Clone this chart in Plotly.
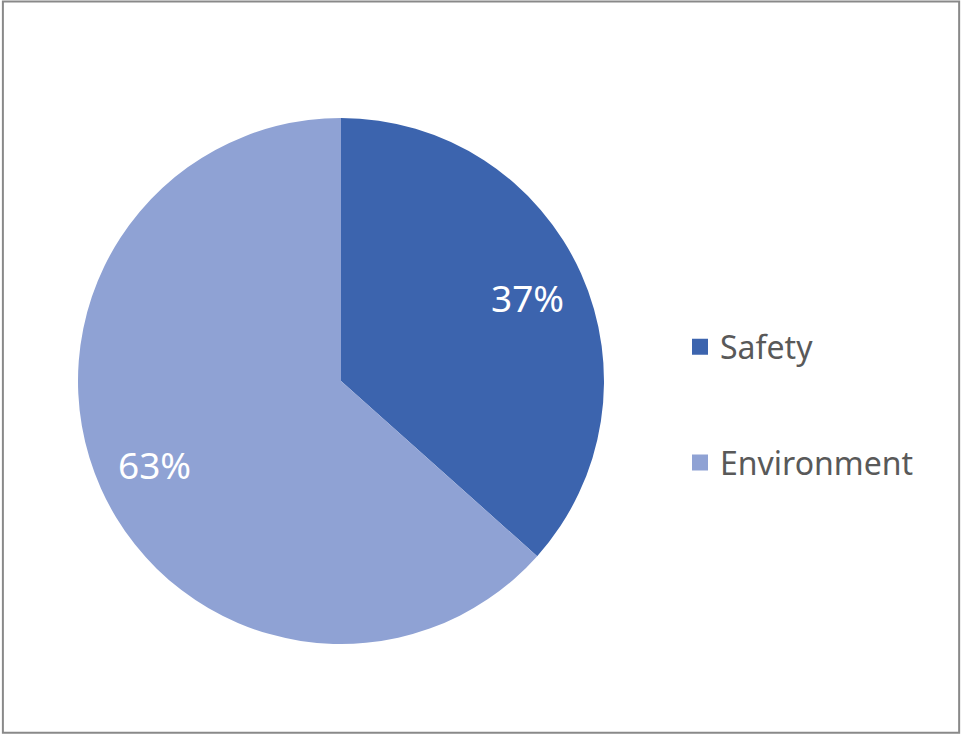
import math
import plotly.graph_objects as go

categories = ["Safety", "Environment"]
values = [36.6, 63.4]
colors = ["#3C64AE", "#8FA2D4"]

W, H = 963, 735
cx, cy, r = 341, 381, 263
label_frac = 0.775

fig = go.Figure()
fig.add_trace(go.Pie(
    labels=categories, values=values, sort=False, direction="clockwise", rotation=0,
    marker=dict(colors=colors, line=dict(width=0)),
    textinfo="none",
    showlegend=False, hoverinfo="label+percent",
    domain=dict(x=[(cx - r) / W, (cx + r) / W], y=[1 - (cy + r) / H, 1 - (cy - r) / H]),
))
for i, (c, col) in enumerate(zip(categories, colors)):
    fig.add_trace(go.Scatter(
        x=[None], y=[None], mode="markers", name=c, legendgroup=c,
        marker=dict(symbol="square", size=16, color=col),
    ))

total = sum(values)
annotations = []
cum = 0
for v in values:
    mid = (cum + v / 2) / total * 2 * math.pi
    cum += v
    px = cx + label_frac * r * math.sin(mid)
    py = cy - label_frac * r * math.cos(mid)
    annotations.append(dict(
        x=px / W, y=1 - py / H, xref="paper", yref="paper",
        text=f"{round(v / total * 100)}%", showarrow=False,
        font=dict(color="white", size=37, family="Noto Sans"),
        xanchor="center", yanchor="middle",
    ))

fig.update_layout(
    width=W, height=H, margin=dict(l=0, r=0, t=0, b=0),
    paper_bgcolor="white", plot_bgcolor="white",
    xaxis=dict(visible=False), yaxis=dict(visible=False),
    legend=dict(x=680 / W, y=0.449, xanchor="left", yanchor="middle",
                font=dict(size=32, color="#595959", family="Noto Sans"),
                tracegroupgap=71, itemsizing="trace"),
    annotations=annotations,
    shapes=[dict(type="rect", xref="paper", yref="paper", x0=0.003, y0=0.003, x1=0.996, y1=0.998,
                 line=dict(color="#898989", width=2))],
)
fig.write_html("out.html", config={"displayModeBar": False},
               post_script="document.body.style.margin='0';document.body.style.overflow='hidden';")
